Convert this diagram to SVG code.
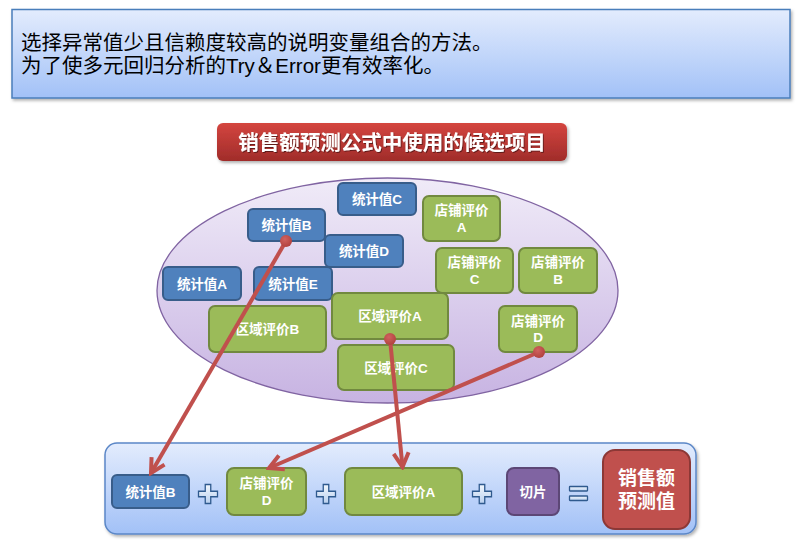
<svg xmlns="http://www.w3.org/2000/svg" xmlns:xlink="http://www.w3.org/1999/xlink" width="802" height="540" viewBox="0 0 802 540">
<defs>
  <linearGradient id="gBlueBox" x1="0" y1="0" x2="0" y2="1">
    <stop offset="0" stop-color="#e3ecfd"/>
    <stop offset="1" stop-color="#a2c1f7"/>
  </linearGradient>
  <linearGradient id="gTitle" x1="0" y1="0" x2="0" y2="1">
    <stop offset="0" stop-color="#d4453f"/>
    <stop offset="1" stop-color="#a02c2a"/>
  </linearGradient>
  <linearGradient id="gEllipse" x1="0" y1="0" x2="0" y2="1">
    <stop offset="0" stop-color="#f0ebf8"/>
    <stop offset="1" stop-color="#c7b3e2"/>
  </linearGradient>
  <linearGradient id="gPlus" x1="0" y1="0" x2="0" y2="1">
    <stop offset="0" stop-color="#f2f7fd"/>
    <stop offset="1" stop-color="#b9d0ee"/>
  </linearGradient>
  <filter id="shadow" x="-5%" y="-10%" width="112%" height="130%">
    <feDropShadow dx="1.5" dy="2" stdDeviation="1.5" flood-color="#000" flood-opacity="0.3"/>
  </filter>
  <filter id="tshadow" x="-5%" y="-20%" width="110%" height="140%">
    <feDropShadow dx="1" dy="1" stdDeviation="0.6" flood-color="#000" flood-opacity="0.45"/>
  </filter>
  <marker id="arrow" viewBox="0 0 20 20" markerWidth="20" markerHeight="20" refX="17" refY="10" orient="auto" markerUnits="userSpaceOnUse">
    <path d="M3,2.5 L17,10 L3,17.5" fill="none" stroke="#c0504d" stroke-width="4" stroke-linejoin="miter"/>
  </marker>
  <path id="plus" d="M-2.75,-9.5 h5.5 v6.75 h6.75 v5.5 h-6.75 v6.75 h-5.5 v-6.75 h-6.75 v-5.5 h6.75 z"/>
  <radialGradient id="gDot" cx="0.4" cy="0.35" r="0.7">
    <stop offset="0" stop-color="#d0625f"/>
    <stop offset="1" stop-color="#b0403d"/>
  </radialGradient>
</defs>
<style>
  .cjk { font-family: "Liberation Sans", "Noto Sans CJK SC", sans-serif; }
  .note { font-size: 20.5px; fill: #000; }
  .title { font-size: 20.5px; font-weight: bold; fill: #fff; }
  .lbl { font-size: 13.5px; font-weight: bold; fill: #fff; text-anchor: middle; }
  .big { font-size: 19px; font-weight: bold; fill: #fff; text-anchor: middle; }
  .blue { fill: #4f81bd; stroke: #385d8a; stroke-width: 2; }
  .green { fill: #9bbb59; stroke: #71893f; stroke-width: 2; }
  .purple { fill: #8064a2; stroke: #5c4776; stroke-width: 2; }
  .red { fill: #c0504d; stroke: #8c3836; stroke-width: 2; }
  .conn { stroke: #c0504d; stroke-width: 4; fill: none; }
  .dot { fill: url(#gDot); }
  .op { fill: url(#gPlus); stroke: #2f5a8e; stroke-width: 1.3; }
</style>

<g id="note">
  <rect x="12" y="9.5" width="778" height="88.5" fill="url(#gBlueBox)" stroke="#4a7ebb" stroke-width="1.5" filter="url(#shadow)"/>
  <text class="cjk note" x="21" y="50">选择异常值少且信赖度较高的说明变量组合的方法。<tspan x="21" y="72.5">为了使多元回归分析的Try＆Error更有效率化。</tspan></text>
</g>

<g id="title">
  <rect x="217" y="123" width="350" height="38" rx="6" fill="url(#gTitle)" filter="url(#shadow)"/>
  <text class="cjk title" x="392" y="149.5" text-anchor="middle" filter="url(#tshadow)">销售额预测公式中使用的候选项目</text>
</g>

<g id="candidates">
  <ellipse cx="387.5" cy="290.5" rx="230.5" ry="112.5" fill="url(#gEllipse)" stroke="#8064a2" stroke-width="1.3"/>
</g>

<g id="stat-C"><rect class="blue" x="338" y="183" width="78" height="32" rx="5"/><text class="cjk lbl" x="377" y="204">统计值C</text></g>
<g id="stat-B"><rect class="blue" x="248" y="209" width="77" height="32" rx="5"/><text class="cjk lbl" x="286.5" y="230">统计值B</text></g>
<g id="stat-D"><rect class="blue" x="325" y="235" width="78" height="32" rx="5"/><text class="cjk lbl" x="364" y="256">统计值D</text></g>
<g id="stat-A"><rect class="blue" x="163" y="267" width="78" height="33" rx="5"/><text class="cjk lbl" x="202" y="288.5">统计值A</text></g>
<g id="stat-E"><rect class="blue" x="254" y="267" width="78" height="33" rx="5"/><text class="cjk lbl" x="293" y="288.5">统计值E</text></g>

<g id="store-A"><rect class="green" x="423" y="196" width="77" height="45" rx="6"/><text class="cjk lbl" x="461.5" y="215">店铺评价<tspan x="461.5" y="231.5">A</tspan></text></g>
<g id="store-C"><rect class="green" x="436" y="248" width="77" height="45" rx="6"/><text class="cjk lbl" x="474.5" y="267">店铺评价<tspan x="474.5" y="283.5">C</tspan></text></g>
<g id="store-B"><rect class="green" x="519" y="248" width="78" height="45" rx="6"/><text class="cjk lbl" x="558" y="267">店铺评价<tspan x="558" y="283.5">B</tspan></text></g>
<g id="region-B"><rect class="green" x="209" y="306" width="117" height="46" rx="6"/><text class="cjk lbl" x="267.5" y="334">区域评价B</text></g>
<g id="region-A"><rect class="green" x="332" y="293" width="116" height="46" rx="6"/><text class="cjk lbl" x="390" y="321">区域评价A</text></g>
<g id="region-C"><rect class="green" x="338" y="345" width="116" height="45" rx="6"/><text class="cjk lbl" x="396" y="372.5">区域评价C</text></g>
<g id="store-D"><rect class="green" x="499" y="306" width="78" height="46" rx="6"/><text class="cjk lbl" x="538" y="325.5">店铺评价<tspan x="538" y="342">D</tspan></text></g>

<g id="formula">
  <rect x="105" y="443" width="591" height="91" rx="12" fill="url(#gBlueBox)" stroke="#5b87c7" stroke-width="1.5" filter="url(#shadow)"/>
</g>
<g id="f-stat-B"><rect class="blue" x="112" y="475" width="77" height="33" rx="5"/><text class="cjk lbl" x="150.5" y="496.5">统计值B</text></g>
<g id="plus-1"><use href="#plus" xlink:href="#plus" x="208" y="494" class="op"/></g>
<g id="f-store-D"><rect class="green" x="227" y="468" width="79" height="47" rx="7"/><text class="cjk lbl" x="266.5" y="488">店铺评价<tspan x="266.5" y="504.5">D</tspan></text></g>
<g id="plus-2"><use href="#plus" xlink:href="#plus" x="326" y="494" class="op"/></g>
<g id="f-region-A"><rect class="green" x="345" y="468" width="117" height="47" rx="7"/><text class="cjk lbl" x="403.5" y="496.5">区域评价A</text></g>
<g id="plus-3"><use href="#plus" xlink:href="#plus" x="482" y="494" class="op"/></g>
<g id="f-intercept"><rect class="purple" x="507" y="468" width="52" height="47" rx="7"/><text class="cjk lbl" x="533" y="496.5">切片</text></g>
<g id="equals">
  <rect class="op" x="569.5" y="486.5" width="18" height="4.5" rx="0.5"/>
  <rect class="op" x="569.5" y="496" width="18" height="4.5" rx="0.5"/>
</g>
<g id="f-result"><rect class="red" x="603" y="450" width="87" height="79" rx="12"/><text class="cjk big" x="646.5" y="484.5">销售额<tspan x="646.5" y="508">预测值</tspan></text></g>

<g id="connectors">
  <line class="conn" x1="286" y1="241" x2="151" y2="473" marker-end="url(#arrow)"/>
  <line class="conn" x1="390" y1="339" x2="402.5" y2="467" marker-end="url(#arrow)"/>
  <line class="conn" x1="539" y1="352" x2="269" y2="468" marker-end="url(#arrow)"/>
  <circle class="dot" cx="286" cy="241" r="6"/>
  <circle class="dot" cx="390" cy="339" r="6"/>
  <circle class="dot" cx="539" cy="352" r="6"/>
</g>
</svg>
